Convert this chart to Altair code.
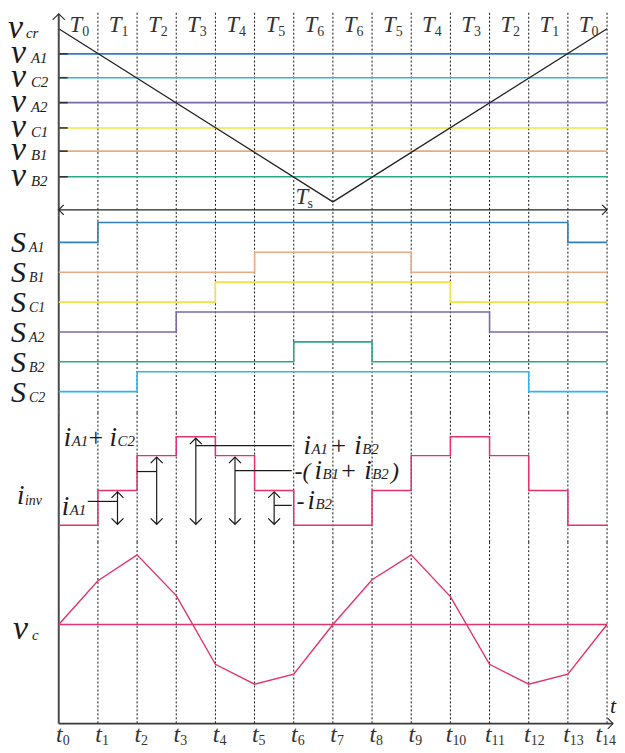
import altair as alt
import pandas as pd

# ---------------- data ----------------
t_index = list(range(15))                      # t0 ... t14
T_sub = ["0", "1", "2", "3", "4", "5", "6", "6", "5", "4", "3", "2", "1", "0"]

carrier_t = [0, 7, 14]
carrier_v = [1.0, 0.0, 1.0]

ref_names = ["A1", "C2", "A2", "C1", "B1", "B2"]
ref_values = [0.855, 0.717, 0.573, 0.427, 0.293, 0.145]

sw_names = ["A1", "B1", "C1", "A2", "B2", "C2"]
sw_A1 = [0, 1, 1, 1, 1, 1, 1, 1, 1, 1, 1, 1, 1, 0]
sw_B1 = [0, 0, 0, 0, 0, 1, 1, 1, 1, 0, 0, 0, 0, 0]
sw_C1 = [0, 0, 0, 0, 1, 1, 1, 1, 1, 1, 0, 0, 0, 0]
sw_A2 = [0, 0, 0, 1, 1, 1, 1, 1, 1, 1, 1, 0, 0, 0]
sw_B2 = [0, 0, 0, 0, 0, 0, 1, 1, 0, 0, 0, 0, 0, 0]
sw_C2 = [0, 0, 1, 1, 1, 1, 1, 1, 1, 1, 1, 1, 0, 0]
sw_states = [sw_A1, sw_B1, sw_C1, sw_A2, sw_B2, sw_C2]

i_inv = [0, 35, 70, 89, 70, 35, 0, 0, 35, 70, 89, 70, 35, 0]
arrow_t = [1.5, 2.5, 3.5, 4.5, 5.5]
arrow_top = [35, 70, 89, 70, 35]
leader_x0 = [0.74, 1.99, 3.5, 4.5, 5.5]
leader_x1 = [1.5, 2.5, 5.95, 5.95, 5.95]
leader_y = [24, 54, 80, 55, 20]

v_c = [0, 44, 70, 29, -40, -60, -50, 0, 45, 70, 28, -40, -60, -50, 0]

colors = {"A1": "#2f7fbf", "C2": "#33b4e6", "A2": "#7b6aa8",
          "C1": "#f1e14a", "B1": "#e9ab84", "B2": "#2ba88a"}
PINK = "#e2336b"
INK = "#1a1a1a"

# ---------------- layout helpers ----------------
PX0, PXT = 59.0, 39.357


def tx(px):
    return (px - PX0) / PXT


XMIN, XMAX = tx(8), tx(617)
W = 609
XS = alt.Scale(domain=[XMIN, XMAX], nice=False, zero=False)

PA = (8, 204, -14 / 174, 1 + 16 / 174)
PB = (212, 198, -21.3 / 30, 176.7 / 30)
PC = (410, 130, -17.0, 113.0)
PD = (540, 205, -122.3, 82.7)


def pv(panel, py):
    top, H, lo, hi = panel
    return hi - (py - top) / H * (hi - lo)


def xenc(f):
    return alt.X(f"{f}:Q", scale=XS, axis=None)


def yenc_for(panel):
    top, H, lo, hi = panel
    ys = alt.Scale(domain=[lo, hi], nice=False, zero=False)

    def yenc(f):
        return alt.Y(f"{f}:Q", scale=ys, axis=None)
    return yenc


CSCALE = alt.Scale(domain=list(colors.keys()), range=list(colors.values()))

UP = "M -1 1 L 0 0 L 1 1"
DOWN = "M -1 -1 L 0 0 L 1 -1"
LEFT = "M 1 -1 L 0 0 L 1 1"
RIGHT = "M -1 -1 L 0 0 L -1 1"


def hrules(df, yenc, colored=False, **kw):
    enc = dict(x=xenc("x0"), x2="x1:Q", y=yenc("y"))
    if colored:
        enc["color"] = alt.Color("name:N", scale=CSCALE, legend=None)
    return alt.Chart(df).mark_rule(**kw).encode(**enc)


def vrules(df, yenc, **kw):
    return alt.Chart(df).mark_rule(**kw).encode(x=xenc("x"), y=yenc("y0"), y2="y1:Q")


def chev(df, yenc, shape, size=144, color=INK, sw=1.2):
    return alt.Chart(df).mark_point(shape=shape, size=size, filled=False, stroke=color,
                                    strokeWidth=sw, opacity=1).encode(x=xenc("x"), y=yenc("y"))


def texts(rows, yenc, italic=True, align="left", color=INK, font="Liberation Serif"):
    df = pd.DataFrame(rows, columns=["text", "x", "y", "size"])
    return alt.Chart(df).mark_text(align=align, baseline="alphabetic", font=font,
                                   fontStyle="italic" if italic else "normal",
                                   color=color).encode(
        x=xenc("x"), y=yenc("y"), text="text:N",
        size=alt.Size("size:Q", scale=None, legend=None))


def dashed(panel, yenc, bottom=None):
    top, H, lo, hi = panel
    df = pd.DataFrame({"x": t_index[1:], "y0": hi, "y1": lo if bottom is None else bottom})
    return vrules(df, yenc, color="#111", strokeWidth=1, strokeDash=[2, 2])


def yaxis(yenc, y0, y1):
    return vrules(pd.DataFrame({"x": [0], "y0": [y0], "y1": [y1]}), yenc,
                  color="#4a4a4a", strokeWidth=2)


# ---------------- panel A: carrier + references ----------------
yA = yenc_for(PA)
lay_A = [dashed(PA, yA)]
lay_A.append(hrules(pd.DataFrame({"x0": 0, "x1": 14, "y": ref_values, "name": ref_names}),
                    yA, colored=True, strokeWidth=1.6))
lay_A.append(hrules(pd.DataFrame({"x0": 0, "x1": tx(68), "y": ref_values}), yA,
                    color="#333", strokeWidth=1.6))
lay_A.append(alt.Chart(pd.DataFrame({"t": carrier_t, "v": carrier_v})).mark_line(
    color="#222", strokeWidth=1.3).encode(x=xenc("t"), y=yA("v")))
lay_A.append(yaxis(yA, pv(PA, 9), PA[2]))
lay_A.append(chev(pd.DataFrame({"x": [0], "y": [pv(PA, 9)]}), yA, UP, 150, "#333"))
ys_arrow = pv(PA, 206)
lay_A.append(hrules(pd.DataFrame({"x0": [0], "x1": [14], "y": [ys_arrow]}), yA,
                    color="#222", strokeWidth=1.2))
lay_A.append(chev(pd.DataFrame({"x": [0], "y": [ys_arrow]}), yA, LEFT, 100, "#222"))
lay_A.append(chev(pd.DataFrame({"x": [14], "y": [ys_arrow]}), yA, RIGHT, 100, "#222"))

T_main, T_digit = [], []
for k, s in enumerate(T_sub):
    c = k + 0.5
    T_main.append(("T", c + tx(PX0 + 4), pv(PA, 27), 23))
    T_digit.append((s, c + tx(PX0 + 4), pv(PA, 31), 14))
lay_A.append(texts(T_main, yA, italic=True, align="right", color="#333"))
lay_A.append(texts(T_digit, yA, italic=False, align="left", color="#333"))

v_main = [("v", tx(8), 1 - 9 / 174, 34)]
v_sub = [("cr", tx(26), 1 - 9 / 174, 15)]
for n, v in zip(ref_names, ref_values):
    v_main.append(("v", tx(11), v - 9 / 174, 34))
    v_sub.append((n, tx(31), v - 9 / 174, 15))
lay_A.append(texts(v_main, yA))
lay_A.append(texts(v_sub, yA))
lay_A.append(texts([("T", tx(297), pv(PA, 200), 23)], yA, color="#333"))
lay_A.append(texts([("s", tx(309), pv(PA, 204), 14)], yA, italic=False, color="#333"))
panel_A = alt.layer(*lay_A).properties(width=W, height=PA[1])

# ---------------- panel B: switching signals ----------------
yB = yenc_for(PB)
rows = []
for r, (n, st) in enumerate(zip(sw_names, sw_states)):
    vals = st + [st[-1]]
    for t, s in zip(t_index, vals):
        rows.append({"t": t, "v": (5 - r) + 0.667 * s, "name": n})
lay_B = [dashed(PB, yB), yaxis(yB, PB[3], PB[2])]
lay_B.append(alt.Chart(pd.DataFrame(rows)).mark_line(interpolate="step-after", strokeWidth=1.6).encode(
    x=xenc("t"), y=yB("v"), color=alt.Color("name:N", scale=CSCALE, legend=None),
    detail="name:N"))
S_main = [("S", tx(11), (5 - r) - 10 / 30, 30) for r in range(6)]
S_sub = [(n, tx(29), (5 - r) - 10 / 30, 14) for r, n in enumerate(sw_names)]
lay_B.append(texts(S_main, yB))
lay_B.append(texts(S_sub, yB))
panel_B = alt.layer(*lay_B).properties(width=W, height=PB[1])

# ---------------- panel C: inverter current ----------------
yC = yenc_for(PC)
lay_C = [dashed(PC, yC), yaxis(yC, PC[3], PC[2])]
lay_C.append(alt.Chart(pd.DataFrame({"t": t_index, "v": i_inv + [i_inv[-1]]})).mark_line(
    interpolate="step-after", color=PINK, strokeWidth=1.5).encode(x=xenc("t"), y=yC("v")))
tops = [a - 1.5 for a in arrow_top]
lay_C.append(vrules(pd.DataFrame({"x": arrow_t, "y0": tops, "y1": 1.0}), yC,
                    color=INK, strokeWidth=1.2))
lay_C.append(chev(pd.DataFrame({"x": arrow_t, "y": tops}), yC, UP, 144))
lay_C.append(chev(pd.DataFrame({"x": arrow_t, "y": [1.0] * 5}), yC, DOWN, 144))
lay_C.append(hrules(pd.DataFrame({"x0": leader_x0, "x1": leader_x1, "y": leader_y}), yC,
                    color=INK, strokeWidth=1.2))

ci_main = [
    ("i", 17, 502, 27), ("i", 62, 513, 27),
    ("i", 64, 443, 27), ("i", 110, 443, 27),
    ("i", 305, 451, 27), ("i", 356, 451, 27),
    ("i", 316, 476, 27), ("i", 366, 476, 27),
    ("i", 309, 507, 27),
    ("-(", 296, 476, 24), (")", 393, 476, 24),
]
ci_sub = [
    ("inv", 25, 503, 14), ("A1", 70, 513, 15),
    ("A1", 72, 443, 15), ("C2", 118, 443, 15),
    ("A1", 313, 451, 15), ("B2", 364, 451, 15),
    ("B1", 324, 476, 15), ("B2", 374, 476, 15),
    ("B2", 317, 507, 15),
]
ci_up = [("+", 89, 443, 26), ("+", 333, 451, 26), ("+", 343, 476, 26), ("-", 298, 507, 24)]
conv = lambda lst: [(s, tx(x), pv(PC, y), z) for s, x, y, z in lst]
lay_C.append(texts(conv(ci_main), yC))
lay_C.append(texts(conv(ci_sub), yC))
lay_C.append(texts(conv(ci_up), yC, italic=False))
panel_C = alt.layer(*lay_C).properties(width=W, height=PC[1])

# ---------------- panel D: capacitor voltage ----------------
yD = yenc_for(PD)
AX = pv(PD, 722.3)
lay_D = [dashed(PD, yD, bottom=AX), yaxis(yD, PD[3], AX)]
lay_D.append(hrules(pd.DataFrame({"x0": [0], "x1": [14], "y": [0.0]}), yD, color=PINK, strokeWidth=1.4))
lay_D.append(alt.Chart(pd.DataFrame({"t": t_index, "v": v_c})).mark_line(
    color=PINK, strokeWidth=1.4).encode(x=xenc("t"), y=yD("v")))
lay_D.append(hrules(pd.DataFrame({"x0": [0], "x1": [tx(616)], "y": [AX]}), yD,
                    color="#3a3a3a", strokeWidth=1.6))
lay_D.append(chev(pd.DataFrame({"x": [tx(616)], "y": [AX]}), yD, RIGHT, 110, "#333"))
lay_D.append(texts([("v", tx(13), pv(PD, 637), 34), ("t", tx(613), pv(PD, 712), 22)], yD))
lay_D.append(texts([("c", tx(32), pv(PD, 638), 15)], yD))
off = [4 if k < 10 else 2 for k in t_index]
off[14] = -5
t_main = [("t", k + tx(PX0 + o), pv(PD, 741), 24) for k, o in zip(t_index, off)]
t_digit = [(str(k), k + tx(PX0 + o), pv(PD, 744), 14) for k, o in zip(t_index, off)]
lay_D.append(texts(t_main, yD, align="right", color="#333"))
lay_D.append(texts(t_digit, yD, italic=False, color="#333"))
panel_D = alt.layer(*lay_D).properties(width=W, height=PD[1])

chart = alt.vconcat(panel_A, panel_B, panel_C, panel_D, spacing=0, bounds="flush").properties(
    padding=0).configure_view(strokeWidth=0)

chart.save("out.html", embed_options={"renderer": "svg", "actions": False})
